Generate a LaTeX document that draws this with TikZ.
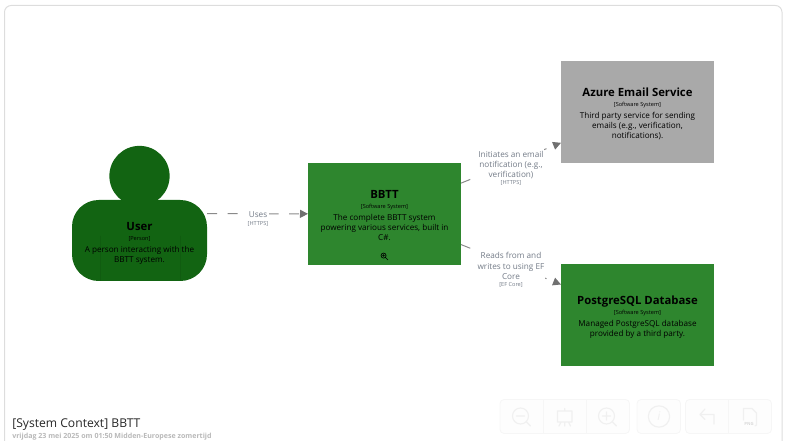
\documentclass[tikz,border=0pt]{standalone}
\usepackage{fontspec}
\setmainfont{Open Sans}
\usetikzlibrary{arrows.meta}
\definecolor{sysgreen}{HTML}{2E862E}
\definecolor{persongreen}{HTML}{126412}
\definecolor{persondark}{HTML}{105C10}
\definecolor{sysgray}{HTML}{A9A9A9}
\definecolor{linegray}{HTML}{8A8A8A}
\definecolor{headgray}{HTML}{707070}
\definecolor{labelgray}{HTML}{747C88}
\definecolor{framegray}{HTML}{DDDDDD}
\definecolor{toolfill}{HTML}{FDFDFD}
\definecolor{toolline}{HTML}{F6F6F6}
\definecolor{toolicon}{HTML}{F0F0F0}
\newcommand{\titlefont}{\fontsize{8.5pt}{11pt}\selectfont\bfseries}
\newcommand{\tagfont}{\fontsize{4.2pt}{6pt}\selectfont}
\newcommand{\descfont}{\fontsize{6.1pt}{7.5pt}\selectfont}
\newcommand{\lblfont}{\fontsize{6.15pt}{7.6pt}\selectfont}
\newcommand{\stacklines}[3]{#2\begin{tabular}[#1]{@{}c@{}}#3\end{tabular}}
\newcommand{\elementtext}[3]{\titlefont\rule{0pt}{10.5pt}#1\\[-5pt]\tagfont [#2]\\[-3pt]\stacklines{t}{\descfont}{#3}}
\newcommand{\linktext}[2]{\stacklines{b}{\lblfont}{#1}\\[-6.6pt]\tagfont #2}
\tikzset{
  sysbox/.style={rectangle,minimum width=114.75pt,minimum height=76.5pt,inner sep=0pt,outer sep=0pt,align=center,text=black},
  persontext/.style={inner sep=0pt,align=center,text=black},
  ghost/.style={rectangle,minimum width=101.25pt,minimum height=101.25pt,inner sep=0pt,outer sep=0pt},
  link/.style={draw=linegray,line width=0.75pt,dash pattern=on 7.5pt off 7.9pt,
    -{Triangle[length=6pt,width=6pt,fill=headgray,color=headgray,sep=0pt]}},
  linklabel/.style={fill=white,inner sep=0.7pt,align=center,text=labelgray},
  toolgroup/.style={draw=toolline,fill=toolfill,line width=0.6pt,rounded corners=3pt},
  toolsep/.style={draw=toolline,line width=0.6pt},
  toolglyph/.style={draw=toolicon,line width=0.85pt,line cap=round,line join=round},
}
\begin{document}
\begin{tikzpicture}[x=0.75pt,y=-0.75pt]
\useasboundingbox (0,0) rectangle (794,441);
\draw[draw=framegray,line width=0.75pt,rounded corners=5pt] (4.5,441) -- (4.5,5.5) -- (782,5.5) -- (782,441);

% person
\node[ghost] (user) at (139.5,213.5) {};
\fill[persongreen,rounded corners=20pt] (72,200) rectangle (207,281);
\fill[persongreen] (139.5,176) circle[radius=22.6pt];
\draw[persondark,line width=0.4pt] (100,236) -- (100,281) (180,236) -- (180,281);
\node[persontext] (usertext) at (139.5,241) {\elementtext{User}{Person}{A person interacting with the\\BBTT system.}};

% systems
\node[sysbox,fill=sysgreen] (bbtt) at (384.5,214) {\elementtext{BBTT}{Software System}{The complete BBTT system\\powering various services, built in\\C\#.}};
\node[sysbox,fill=sysgray] (azure) at (637.5,112) {\elementtext{Azure Email Service}{Software System}{Third party service for sending\\emails (e.g., verification,\\notifications).}};
\node[sysbox,fill=sysgreen] (pg) at (637.5,315) {\elementtext{PostgreSQL Database}{Software System}{Managed PostgreSQL database\\provided by a third party.}};

% zoom icon in BBTT
\draw[black,line width=0.5pt] (383.6,255.6) circle[radius=1.9pt] (382.2,255.6) -- (385,255.6) (383.6,254.2) -- (383.6,257) (385.5,257.5) -- (388,260);

% connectors
\draw[link] (user) -- (bbtt);
\draw[link] (bbtt) -- (azure);
\draw[link] (bbtt) -- (pg);

% labels
\node[linklabel] (uses) at (258,218.5) {\linktext{Uses}{[HTTPS]}};
\node[linklabel] (notify) at (511,168) {\linktext{Initiates an email\\notification (e.g.,\\verification)}{[HTTPS]}};
\node[linklabel] (reads) at (511,269.5) {\linktext{Reads from and\\writes to using EF\\Core}{[EF Core]}};

% title
\node[anchor=base west,inner sep=0pt,text=black!85] (title) at (12,428) {\fontsize{9.1pt}{12pt}\selectfont [System Context] BBTT};
\node[anchor=base west,inner sep=0pt,text=black!28] (date) at (12,439) {\fontsize{5.3pt}{7pt}\selectfont\bfseries vrijdag 23 mei 2025 om 01:50 Midden-Europese zomertijd};

% toolbar
\path[toolgroup] (500,399.5) rectangle (629.5,433.5);
\path[toolgroup] (637,399.5) rectangle (680.5,433.5);
\path[toolgroup] (685.5,399.5) rectangle (771.5,433.5);
\draw[toolsep] (543,399.5) -- (543,433.5) (586,399.5) -- (586,433.5) (728.5,399.5) -- (728.5,433.5);
% zoom out
\draw[toolglyph] (520.5,416) circle[radius=6pt] (516.5,416) -- (524.5,416) (526.5,422) -- (530.5,426);
% presentation easel
\draw[toolglyph] (557.5,411) rectangle (572,422) (564.7,411) -- (564.7,408.5) (561,422) -- (559,426) (568.5,422) -- (570.5,426) (564.7,422) -- (564.7,426);
% zoom in
\draw[toolglyph] (606.5,416) circle[radius=6pt] (602.5,416) -- (610.5,416) (606.5,412) -- (606.5,420) (612.5,422) -- (616.5,426);
% info
\draw[toolglyph] (659,416.5) circle[radius=8pt];
\node[inner sep=0pt,text=toolicon] (infoglyph) at (659,416.5) {\fontsize{9pt}{9pt}\selectfont\itshape i};
% undo arrow
\draw[toolglyph] (714,424) -- (714,414.5) -- (700,414.5) (705,409) -- (700,414.5) -- (705,419.5);
% png file
\draw[toolglyph] (743.5,420) -- (743.5,408.5) -- (752,408.5) -- (756.5,413) -- (756.5,425) -- (755,426);
\node[inner sep=0pt,text=black!15] (pngglyph) at (749,424) {\fontsize{3.2pt}{4pt}\selectfont\bfseries PNG};
\end{tikzpicture}
\end{document}
